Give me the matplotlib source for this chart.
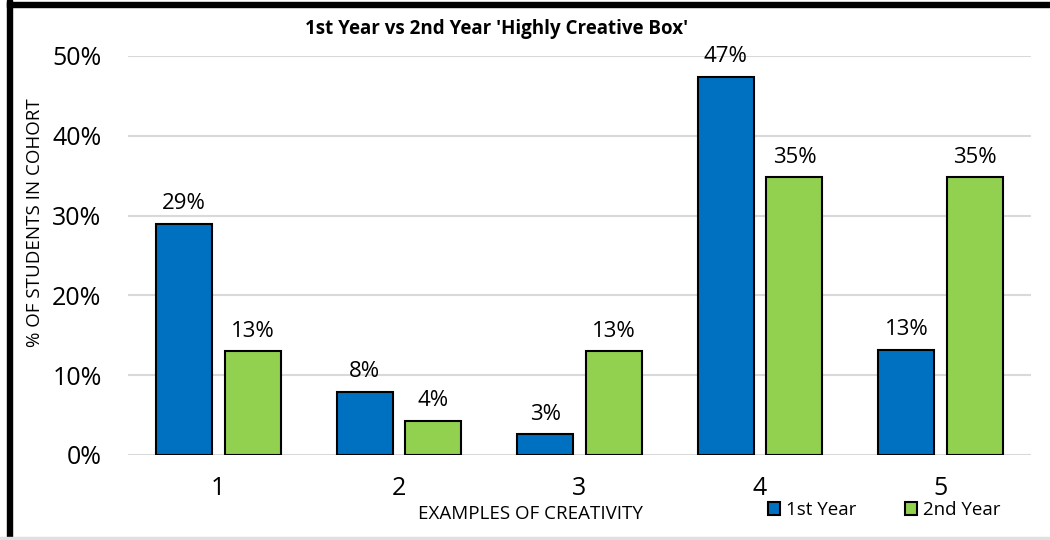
import matplotlib
matplotlib.use("Agg")
import matplotlib.pyplot as plt
from matplotlib.patches import Rectangle
import numpy as np

categories = ["1", "2", "3", "4", "5"]
first_year = [29.0, 7.9, 2.6, 47.4, 13.2]
second_year = [13.0, 4.3, 13.0, 34.8, 34.8]
first_labels = ["29%", "8%", "3%", "47%", "13%"]
second_labels = ["13%", "4%", "13%", "35%", "35%"]
yticks = [0, 10, 20, 30, 40, 50]
ytick_labels = ["0%", "10%", "20%", "30%", "40%", "50%"]

plt.rcParams['font.family'] = ['Open Sans', 'DejaVu Sans']

W, H = 1050, 540
fig = plt.figure(figsize=(W / 100, H / 100), dpi=100)
ax = fig.add_axes([128 / W, 1 - 455 / H, (1031 - 128) / W, (455 - 56) / H])

x = np.arange(len(categories))
bw = 0.31
off = 0.19
blue = "#0070C0"
green = "#92D050"
b1 = ax.bar(x - off, first_year, bw, color=blue, edgecolor="black", linewidth=1.5, zorder=3, label="1st Year")
b2 = ax.bar(x + off, second_year, bw, color=green, edgecolor="black", linewidth=1.5, zorder=3, label="2nd Year")

for xi, v, t in zip(x, first_year, first_labels):
    ax.annotate(t, (xi - off, v), xytext=(0, 7), textcoords="offset points",
                ha="center", va="bottom", fontsize=16)
for xi, v, t in zip(x, second_year, second_labels):
    ax.annotate(t, (xi + off, v), xytext=(0, 7), textcoords="offset points",
                ha="center", va="bottom", fontsize=16)

ax.set_xlim(-0.5, 4.5)
ax.set_ylim(0, 50)
ax.set_yticks(yticks)
ax.set_yticklabels(ytick_labels, fontsize=18)
ax.set_xticks(x)
ax.set_xticklabels(categories, fontsize=18)
ax.tick_params(axis="both", length=0)
ax.tick_params(axis="y", pad=19)
ax.tick_params(axis="x", pad=15)
ax.grid(axis="y", color="#d9d9d9", linewidth=1.5, zorder=0)
for s in ax.spines.values():
    s.set_visible(False)

fig.text(497 / W, 1 - 29 / H, "1st Year vs 2nd Year 'Highly Creative Box'", ha="center", va="center",
         fontsize=13.5, fontweight="bold")
fig.text(35 / W, 1 - 223 / H, "% OF STUDENTS IN COHORT", rotation=90, ha="center", va="center", fontsize=13.5)
fig.text(530 / W, 1 - 514 / H, "EXAMPLES OF CREATIVITY", ha="center", va="center", fontsize=13.5)

leg = fig.legend(handles=[b1, b2], loc="center", bbox_to_anchor=(884 / W, 1 - 510 / H), ncol=2,
                 frameon=False, fontsize=13.5, handlelength=0.65, handleheight=0.65,
                 handletextpad=0.3, columnspacing=2.6)

# border
fig.add_artist(Rectangle((7 / W, 0), 5 / W, 1, transform=fig.transFigure, color="black", zorder=10))
fig.add_artist(Rectangle((7 / W, 1 - 7 / H), 1, 5 / H, transform=fig.transFigure, color="black", zorder=10))
fig.add_artist(Rectangle((0, 1 / H), 1, 2 / H, transform=fig.transFigure, color="#e0e0e0", zorder=10))

fig.savefig("out.png", dpi=100)
